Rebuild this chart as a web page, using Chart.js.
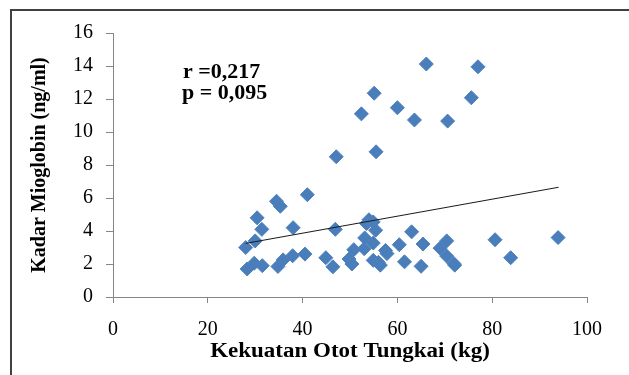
<!DOCTYPE html>
<html>
<head>
<meta charset="utf-8">
<script src="https://cdn.jsdelivr.net/npm/chart.js@4"></script>
<style>
  html, body { margin: 0; padding: 0; background: #fff; }
  #wrap { position: relative; width: 629px; height: 375px; }
</style>
</head>
<body>
<div id="wrap"><canvas id="grafik"></canvas></div>
<script>
// data
const kekuatanOtot = [28.0, 28.3, 29.8, 30.0, 30.4, 31.4, 31.5, 34.5, 35.3, 34.8, 35.9, 38.0, 37.9, 40.5,
  41.0, 44.9, 46.4, 47.1, 46.9, 49.8, 50.4, 50.8, 52.4, 53.0, 53.1, 53.5, 54.0, 54.9, 54.9, 55.1, 55.5,
  55.4, 54.9, 56.0, 56.4, 57.5, 57.8, 60.0, 60.4, 61.5, 63.0, 63.6, 65.0, 65.4, 66.1, 69.0, 70.4, 70.4,
  70.6, 71.9, 72.1, 75.6, 77.0, 80.6, 83.9, 93.9];
const kadarMioglobin = [3.0, 1.7, 2.05, 3.4, 4.8, 4.1, 1.9, 5.8, 5.5, 1.85, 2.25, 4.2, 2.5, 2.6,
  6.2, 2.38, 1.83, 8.5, 4.1, 2.3, 2.0, 2.87, 11.1, 2.93, 3.58, 4.45, 4.68, 4.55, 3.27, 12.35, 8.8,
  4.05, 2.22, 2.1, 1.93, 2.82, 2.63, 11.47, 3.17, 2.13, 3.95, 10.73, 1.86, 3.21, 14.12, 2.96, 3.4, 2.48,
  10.66, 2.03, 1.93, 12.08, 13.95, 3.47, 2.38, 3.6];
const trendX = [28, 94];
const trendY = [3.25, 6.65];
const anotasi = ['r =0,217', 'p = 0,095'];
const judulX = 'Kekuatan Otot Tungkai (kg)';
const judulY = 'Kadar Mioglobin (ng/ml)';

const titikData = kekuatanOtot.map((x, i) => ({ x: x, y: kadarMioglobin[i] }));
const trendData = trendX.map((x, i) => ({ x: x, y: trendY[i] }));

const serif = '"Liberation Serif", "Times New Roman", serif';

// teks yang di gambar asli agak melebar
function teksLebar(ctx, teks, x, y, skala, align) {
  ctx.save();
  ctx.translate(x, y);
  ctx.scale(skala, 1);
  ctx.textAlign = align;
  ctx.fillText(teks, 0, 0);
  ctx.restore();
}

const bingkai = {
  id: 'bingkai',
  beforeDraw(chart) {
    const ctx = chart.ctx;
    ctx.save();
    ctx.fillStyle = '#fff';
    ctx.fillRect(0, 0, chart.width, chart.height);
    ctx.strokeStyle = '#404040';
    ctx.lineWidth = 2;
    ctx.beginPath();
    ctx.moveTo(11, chart.height);
    ctx.lineTo(11, 10);
    ctx.lineTo(chart.width, 10);
    ctx.stroke();
    ctx.restore();
  },
  afterDraw(chart) {
    const ctx = chart.ctx;
    const area = chart.chartArea;
    ctx.save();
    ctx.fillStyle = '#000';
    ctx.font = 'bold 20px ' + serif;
    ctx.textBaseline = 'alphabetic';
    teksLebar(ctx, anotasi[0], 183, 78, 1.1, 'left');
    teksLebar(ctx, anotasi[1], 182, 99, 1.1, 'left');
    ctx.textBaseline = 'middle';
    teksLebar(ctx, judulX, (area.left + area.right) / 2, 352, 1.15, 'center');
    ctx.restore();
  }
};

new Chart(document.getElementById('grafik'), {
  type: 'scatter',
  data: {
    datasets: [
      {
        type: 'line',
        data: trendData,
        borderColor: '#1a1a1a',
        borderWidth: 1,
        pointRadius: 0,
        fill: false,
        order: 0
      },
      {
        data: titikData,
        pointStyle: 'rectRot',
        pointRadius: 7,
        pointHoverRadius: 7,
        backgroundColor: '#4A7EBB',
        borderColor: '#4F81BD',
        borderWidth: 1,
        order: 1
      }
    ]
  },
  options: {
    responsive: true,
    maintainAspectRatio: false,
    animation: false,
    layout: { padding: { top: 33, right: 42, left: 0, bottom: 0 } },
    plugins: {
      legend: { display: false },
      tooltip: { enabled: false }
    },
    scales: {
      x: {
        type: 'linear',
        min: 0, max: 100,
        ticks: { stepSize: 20, color: '#000', padding: 15, font: { family: serif, size: 20 } },
        grid: { drawOnChartArea: false, color: '#868686', tickLength: 6 },
        border: { color: '#868686' },
        title: { display: false, text: judulX },
        afterFit(scale) { scale.height = 78; }
      },
      y: {
        type: 'linear',
        min: 0, max: 16,
        ticks: { stepSize: 2, color: '#000', padding: 13, font: { family: serif, size: 20 } },
        grid: { drawOnChartArea: false, color: '#868686', tickLength: 7 },
        border: { color: '#868686' },
        title: {
          display: true,
          text: judulY,
          color: '#000',
          font: { family: serif, size: 20, weight: 'bold' },
          padding: { top: 28, bottom: 0 }
        },
        afterFit(scale) { scale.width = 113; }
      }
    }
  },
  plugins: [bingkai]
});
</script>
</body>
</html>
